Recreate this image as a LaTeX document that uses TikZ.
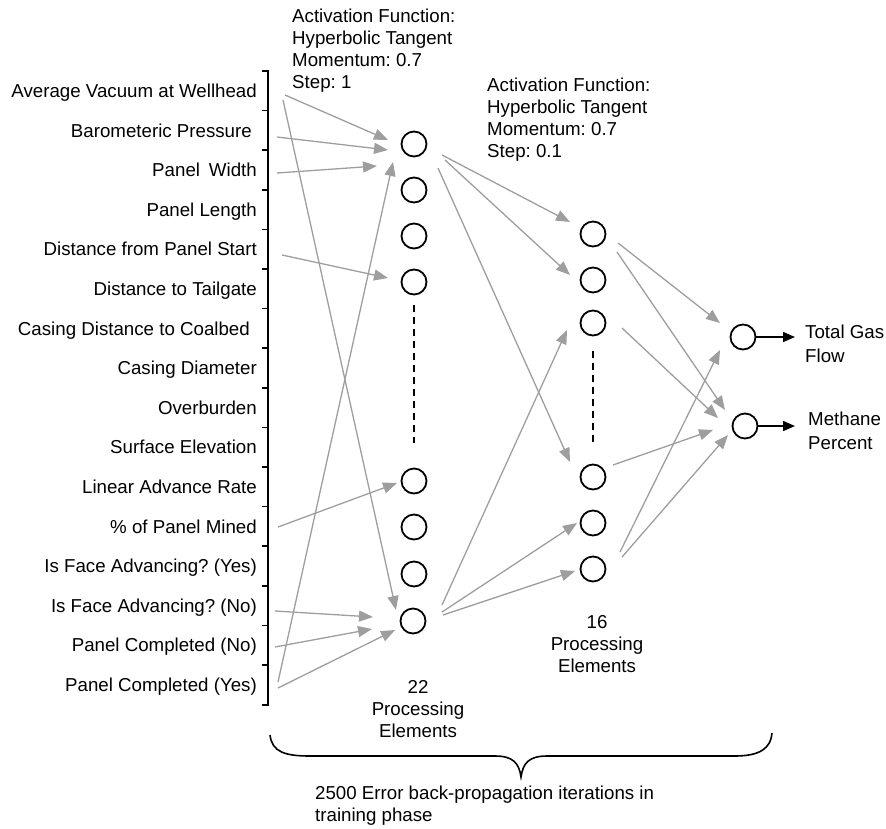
\documentclass[tikz,border=0pt]{standalone}
\usepackage{fontspec}
\setmainfont{Liberation Sans}
\usetikzlibrary{arrows.meta,calc}
\definecolor{lgray}{RGB}{158,158,158}
\frenchspacing
\begin{document}
\begin{tikzpicture}[x=1pt,y=-1pt,
  font=\fontsize{18.7}{22}\selectfont,
  neuron/.style={circle,draw=black,line width=1.8pt,minimum size=25pt,inner sep=0pt,outer sep=0pt},
  garr/.style={draw=lgray,line width=1.3pt,-{Triangle[length=14pt,width=11pt,fill=lgray]}},
  barr/.style={draw=black,line width=1.6pt,-{Triangle[length=12pt,width=10pt]}},
  lbl/.style={anchor=base east,inner sep=0pt},
  txt/.style={anchor=base west,inner sep=0pt},
  ctxt/.style={anchor=base,inner sep=0pt},
  dots/.style={line width=1.6pt,dash pattern=on 7pt off 5pt}]
\useasboundingbox (0,0) rectangle (886,828);

% input labels
\foreach [count=\i from 0] \t/\xx in {
  Average Vacuum at Wellhead/257,
  Barometeric Pressure/252,
  Panel\hspace{0.2em} Width/257,
  Panel Length/257,
  Distance from Panel Start/257,
  Distance to Tailgate/257,
  Casing Distance to Coalbed/250,
  Casing Diameter/257,
  Overburden/257,
  Surface Elevation/257,
  Linear Advance Rate/257,
  \% of Panel Mined/257,
  Is Face Advancing? (Yes)/257,
  Is Face Advancing? (No)/257,
  Panel Completed (No)/257,
  Panel Completed (Yes)/257}
  \node[lbl] (in\i) at (\xx,{97.5+39.6*\i}) {\t};

% bracket
\draw[line width=1.6pt] (262,71) -- (268,71) -- (268,705) -- (262,705);
\foreach \k in {1,...,15}
  \draw[line width=1.6pt] (262,{71+39.6*\k}) -- (268,{71+39.6*\k});

% hidden layer 1
\node[neuron] (h1) at (414,144) {};
\node[neuron] (h2) at (414,190) {};
\node[neuron] (h3) at (414,236) {};
\node[neuron] (h4) at (414,282) {};
\node[neuron] (h19) at (414,481) {};
\node[neuron] (h20) at (414,527) {};
\node[neuron] (h21) at (414,574) {};
\node[neuron] (h22) at (413,621) {};
\draw[dots] ($(h4)+(0,23)$) -- ($(h19)+(0,-38)$);

% hidden layer 2
\node[neuron] (g1) at (593,234) {};
\node[neuron] (g2) at (593,280) {};
\node[neuron] (g3) at (593,323) {};
\node[neuron] (g14) at (593,477) {};
\node[neuron] (g15) at (593,523) {};
\node[neuron] (g16) at (593,569) {};
\draw[dots] ($(g3)+(0,28)$) -- ($(g14)+(0,-34)$);

% outputs
\node[neuron] (o1) at (743,337) {};
\node[neuron] (o2) at (745,426) {};
\coordinate (t1) at (795,337);
\coordinate (t2) at (795,426);
\draw[barr] (o1.east) -- (t1);
\draw[barr] (o2.east) -- (t2);

% input connection start points
\coordinate (sAVa) at (285,95);
\coordinate (sAVb) at (283,100);
\coordinate (sBP) at (277,137);
\coordinate (sPW) at (277,173);
\coordinate (sDPS) at (282,255);
\coordinate (sPM) at (278,527);
\coordinate (sFN) at (275,611);
\coordinate (sPCN) at (275,647);
\coordinate (sPCYa) at (278,688);
\coordinate (sPCYb) at (278,682);

\draw[garr] (sAVa) -- ($(h1)+(-26,-4)$);
\draw[garr] (sBP) -- ($(h1)+(-26,6)$);
\draw[garr] (sPW) -- ($(h1)+(-37,22)$);
\draw[garr] (sDPS) -- ($(h4)+(-26,-4)$);
\draw[garr] (sAVb) -- ($(h22)+(-17,-11)$);
\draw[garr] (sPM) -- ($(h19)+(-17,2)$);
\draw[garr] (sFN) -- ($(h22)+(-40,-4)$);
\draw[garr] (sPCN) -- ($(h22)+(-41,8)$);
\draw[garr] (sPCYa) -- ($(h22)+(-18,9)$);
\draw[garr] (sPCYb) -- ($(h1)+(-21,18)$);

% hidden 1 -> hidden 2
\draw[garr] ($(h1)+(28,11)$) -- ($(g1)+(-23,-12)$);
\draw[garr] ($(h1)+(31,16)$) -- ($(g2)+(-23,-5)$);
\draw[garr] ($(h1)+(24,24)$) -- ($(g14)+(-23,-15)$);
\draw[garr] ($(h22)+(29,-16)$) -- ($(g3)+(-26,7)$);
\draw[garr] ($(h22)+(29,-9)$) -- ($(g15)+(-16,0)$);
\draw[garr] ($(h22)+(30,-6)$) -- ($(g16)+(-18,2)$);

% hidden 2 -> outputs
\draw[garr] ($(g1)+(25,9)$) -- ($(o1)+(-23,-14)$);
\draw[garr] ($(g1)+(24,18)$) -- ($(o2)+(-20,-16)$);
\draw[garr] ($(g3)+(29,5)$) -- ($(o2)+(-27,-8)$);
\draw[garr] ($(g14)+(20,-12)$) -- ($(o2)+(-32,4)$);
\draw[garr] ($(g16)+(27,-17)$) -- ($(o1)+(-23,13)$);
\draw[garr] ($(g16)+(29,-12)$) -- ($(o2)+(-17,9)$);

% annotation texts
\node[txt] (act1) at (292,22) {\begin{tabular}[t]{@{}l@{}}Activation Function:\\Hyperbolic Tangent\\Momentum: 0.7\\Step: 1\end{tabular}};
\node[txt] (act2) at (487,91) {\begin{tabular}[t]{@{}l@{}}Activation Function:\\Hyperbolic Tangent\\Momentum: 0.7\\Step: 0.1\end{tabular}};
\node[ctxt] (pe22) at (418,693) {\begin{tabular}[t]{@{}c@{}}22\\Processing\\Elements\end{tabular}};
\node[ctxt] (pe16) at (597,628) {\begin{tabular}[t]{@{}c@{}}16\\Processing\\Elements\end{tabular}};
\node[txt] (out1) at (805,338) {\begin{tabular}[t]{@{}l@{}}Total Gas\\[2.5pt]Flow\end{tabular}};
\node[txt] (out2) at (808,425) {\begin{tabular}[t]{@{}l@{}}Methane\\[2.5pt]Percent\end{tabular}};
\node[txt] (iter) at (315,799) {\begin{tabular}[t]{@{}l@{}}2500 Error back-propagation iterations in\\training phase\end{tabular}};

% brace
\draw[line width=1.6pt] (270,735) .. controls (272,752) and (285,756) .. (310,756)
  -- (495,756) .. controls (513,756) and (519,763) .. (521,777)
  .. controls (523,763) and (529,756) .. (547,756)
  -- (735,756) .. controls (760,756) and (771,748) .. (772,733);
\end{tikzpicture}
\end{document}
